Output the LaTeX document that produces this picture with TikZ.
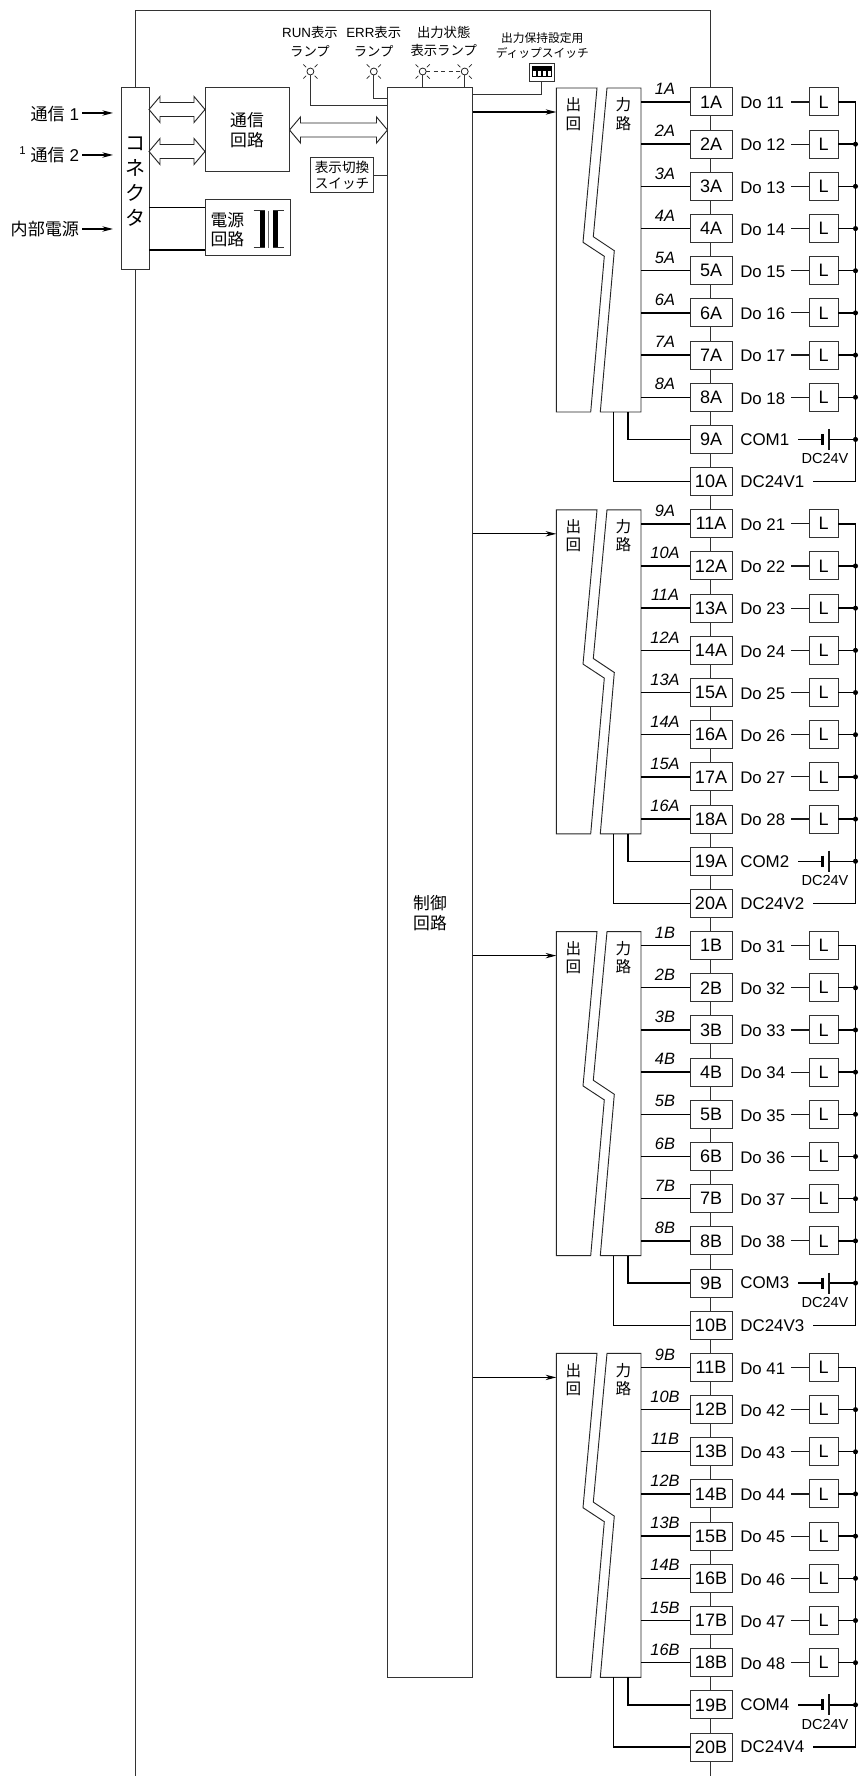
\documentclass[tikz,border=0pt]{standalone}
\usepackage{fontspec}
\setmainfont{Liberation Sans}
\newfontfamily\jp{Noto Sans CJK JP}
\usetikzlibrary{arrows.meta,calc}
\newcommand{\fsz}[2]{\fontsize{#1pt}{#2pt}\selectfont}
\tikzset{
  thin line/.style={draw=black!90,line width=0.9pt},
  frame/.style={draw=black!80,line width=0.75pt},
  wire/.style={draw=black,line width=1.05pt},
  bx/.style={draw=black!80,fill=white,line width=0.75pt,inner sep=0pt,outer sep=0pt},
  lbl/.style={inner sep=0pt,outer sep=0pt,align=center},
  dot/.style={circle,fill=black,inner sep=0pt,minimum size=3.8pt},
  harrow/.style={-{Stealth[length=8pt,width=4pt,inset=2.5pt]},draw=black,line width=0.9pt},
  lamp/.style={circle,draw=black!85,fill=white,line width=0.6pt,inner sep=0pt,minimum size=5.2pt,outer sep=0pt},
  hollow/.style={draw=black!85,fill=white,line width=0.7pt,line join=miter},
}
\newcommand{\dblarrow}[6]{% name, x1,x2,y, shaft half, head half
  \coordinate (#1-l) at (#2,#4);
  \coordinate (#1-r) at (#3,#4);
  \draw[hollow] (#1-l) -- ++(11,-#6) -- ++(0,{#6-#5}) -- ($(#1-r)+(-11,-#5)$) -- ++(0,{#5-#6}) -- (#1-r)
     -- ++(-11,#6) -- ++(0,{#5-#6}) -- ($(#1-l)+(11,#5)$) -- ++(0,{#6-#5}) -- cycle;
}
\newcommand{\lampsym}[3]{% name,x,y
  \node[lamp] (#1) at (#2,#3) {};
  \foreach \a in {45,135,225,315}{
    \draw[black!85,line width=0.5pt] ($(#1.center)+(\a:6.0)$) -- ($(#1.center)+(\a:10)$);
  }
}
\begin{document}
\begin{tikzpicture}[x=0.75pt,y=-0.75pt]
\useasboundingbox (0,0) rectangle (858,1776);
\fill[white] (0,0) rectangle (858,1776);
% outer frame
\coordinate (fl) at (135,1776);
\coordinate (fr) at (710,1776);
\draw[frame] (fl) -- (135,11) -- (710,11) -- (fr);
% connector and blocks
\node[bx,minimum width=21pt,minimum height=136.5pt] (conn) at (135,179) {};
\node[lbl,font={\jp\fsz{15}{18.75}}] (connt) at (135,181.5) {コ\\ネ\\ク\\タ};
\node[bx,minimum width=63pt,minimum height=63pt,align=center,font={\jp\fsz{12.6}{15}}] (comm) at (247,130) {通信\\回路};
\node[bx,minimum width=63.75pt,minimum height=42pt] (psu) at (247.5,228) {};
\node[lbl,font={\jp\fsz{12.6}{14.25}}] (psut) at (227.3,229.5) {電源\\回路};
\node[bx,minimum width=64.1pt,minimum height=1191.75pt] (ctl) at (430,882.5) {};
\node[lbl,font={\jp\fsz{12.6}{15}}] (ctlt) at (430,913) {制御\\回路};
\node[bx,minimum width=47.8pt,minimum height=26.25pt,align=center,font={\jp\fsz{10.2}{12}}] (sw) at (342,175.2) {表示切換\\スイッチ};
\draw[frame] (sw.east) -- (sw.east -| ctl.west);
% transformer
\fill[black] (260,211) rectangle (265,248);
\fill[black] (273,211) rectangle (278,248);
\draw[frame] (253.5,211) -- (265,211) (253.5,248) -- (265,248);
\draw[frame] (273,211) -- (284,211) (273,248) -- (284,248);
\draw[draw=black!60,line width=0.75pt] (268.7,211) -- (268.7,248);
% connector <-> psu wires
\draw[wire] (conn.east |- 0,207.5) -- (psu.west |- 0,207.5);
\draw[wire] (conn.east |- 0,250) -- (psu.west |- 0,250);
% hollow arrows
\dblarrow{da1}{149}{205}{109.5}{7}{13}
\dblarrow{da2}{149}{205}{151.5}{7}{13}
\dblarrow{da3}{289.5}{387.5}{130}{7}{13}
% left inputs
\node[lbl,anchor=east,font={\fsz{12.8}{14}}] (in1) at (79,114) {{\jp 通信}\ 1};
\node[lbl,anchor=east,font={\fsz{12.8}{14}}] (in2) at (79,155.5) {{\jp 通信}\ 2};
\node[lbl,anchor=east,font={\jp\fsz{12.8}{14}}] (in3) at (79,229) {内部電源};
\node[lbl,font={\fsz{8.5}{10}}] (sup) at (22.5,151) {1};
\coordinate (e1) at (113,113);\coordinate (e2) at (113,155);\coordinate (e3) at (113,229);
\coordinate (s1) at (82,113);\coordinate (s2) at (82,155);\coordinate (s3) at (82,229);
\draw[harrow] (s1) -- (e1);
\draw[harrow] (s2) -- (e2);
\draw[harrow] (s3) -- (e3);
% top lamps
\lampsym{lrun}{310.4}{71.5}
\lampsym{lerr}{373.8}{71.5}
\lampsym{lo1}{422.7}{71.5}
\lampsym{lo2}{464.7}{71.5}
\draw[frame] (lrun.south) |- (ctl.west |- 0,105.7);
\draw[frame] (lerr.south) |- (ctl.west |- 0,98.5);
\draw[frame] (lo1.south) -- (lo1.south |- ctl.north);
\draw[frame] (lo2.south) -- (lo2.south |- ctl.north);
\draw[frame,dash pattern=on 3.2pt off 2.4pt] (lo1.east) -- (lo2.west);
\node[lbl,font={\fsz{10}{14}}] (trun) at (310,41.5) {RUN{\jp 表示}\\{\jp ランプ}};
\node[lbl,font={\fsz{10}{14}}] (terr) at (373.7,41.5) {ERR{\jp 表示}\\{\jp ランプ}};
\node[lbl,font={\jp\fsz{10}{14}}] (tout) at (443.7,41.5) {出力状態\\表示ランプ};
\node[lbl,font={\jp\fsz{8.8}{11}}] (tdip) at (542.3,45.5) {出力保持設定用\\ディップスイッチ};
% dip switch
\node[bx,minimum width=19.1pt,minimum height=13.5pt] (dip) at (541.8,72.2) {};
\fill[black] (532,66) rectangle (551.7,77.5);
\foreach \xx in {533.2,538,542.8,547.6}{\fill[white] (\xx,71) rectangle ++(2.9,5.3);}
\draw[frame] (dip.south) |- (ctl.east |- 0,95);
% groups
\foreach \g/\suf/\tb/\wb/\cn in {0/A/0/0/1,1/A/10/8/2,2/B/0/0/3,3/B/10/8/4}{
  \pgfmathsetmacro{\off}{\g*421.8}
  \begin{scope}[yshift={-\off*0.75pt}]
    \coordinate (ta\g) at (472.5,112);
    \coordinate (o\g) at (556.3,112);
    \draw[hollow] (556.3,88) -- (597,88) -- (583,242.3) -- (604.3,256.3) -- (590.7,412) -- (556.3,412) -- cycle;
    \draw[hollow] (607,88) -- (641,88) -- (641,412) -- (600.3,412) -- (614.3,250.7) -- (593.3,236.7) -- cycle;
    \node[lbl,font={\jp\fsz{11.7}{13.9}}] (tout\g) at (573.3,114) {出\\回};
    \node[lbl,font={\jp\fsz{11.7}{13.9}}] (tpow\g) at (623.5,114) {力\\路};
    \draw[harrow] (ta\g) -- (o\g);
    \foreach \k in {1,...,10}{
      \pgfmathsetmacro{\yc}{102+(\k-1)*42.18}
      \pgfmathtruncatemacro{\tn}{\tb+\k}
      \pgfmathtruncatemacro{\wn}{\wb+\k}
      \node[bx,minimum width=31.5pt,minimum height=21pt,font={\fsz{13.5}{15}}] (t\g-\k) at (711,\yc) {\tn\suf};
      \ifnum\k<9
        \coordinate (w\g-\k) at (641,\yc);
        \draw[wire] (w\g-\k) -- (t\g-\k.west);
        \node[lbl,font={\fsz{12.3}{13}\itshape}] (wl\g-\k) at (665,{\yc-13}) {\wn\suf};
        \node[lbl,anchor=west,font={\fsz{12.6}{14}}] (do\g-\k) at (740.3,{\yc+1}) {Do \cn\k};
        \node[bx,minimum width=21.75pt,minimum height=21pt,font={\fsz{13.5}{15}}] (L\g-\k) at (823.5,\yc) {L};
        \coordinate (ds\g-\k) at (791,\yc);
        \draw[thin line] (ds\g-\k) -- (L\g-\k.west);
        \ifnum\k>1
          \coordinate (bus\g-\k) at (855.5,\yc);
          \draw[wire] (L\g-\k.east) -- (bus\g-\k);
          \node[dot] at (bus\g-\k) {};
        \fi
      \fi
    }
    % COM
    \coordinate (c9\g) at (628,412);
    \coordinate (c10\g) at (613.6,412);
    \draw[wire] (c9\g) |- (t\g-9.west);
    \draw[wire] (c10\g) |- (t\g-10.west);
    \node[lbl,anchor=west,font={\fsz{12.7}{14}}] (com\g) at (740.3,{102+8*42.18}) {COM\cn};
    \node[lbl,anchor=west,font={\fsz{12.7}{14}}] (dc\g) at (740.3,{102+9*42.18}) {DC24V\cn};
    \node[lbl,font={\fsz{10.9}{12}}] (dcv\g) at (825,{102+8*42.18+19.5}) {DC24V};
    \coordinate (b9\g) at (855.5,{102+8*42.18});
    \coordinate (b10\g) at (855.5,{102+9*42.18});
    \coordinate (b1\g) at (855.5,102);
    \coordinate (cs\g) at (798,{102+8*42.18});
    \coordinate (cp\g) at (822.5,{102+8*42.18});
    \coordinate (cq\g) at (829,{102+8*42.18});
    \coordinate (de\g) at (813,{102+9*42.18});
    \draw[wire] (cs\g) -- (cp\g);
    \draw[wire] (cq\g) -- (b9\g);
    \draw[black,line width=1.6pt] ($(cp\g)+(0,-5.5)$) -- ($(cp\g)+(0,5.5)$);
    \draw[thin line] ($(cq\g)+(0,-10.5)$) -- ($(cq\g)+(0,10.5)$);
    \node[dot] at (b9\g) {};
    \draw[draw=black,line width=1.1pt] (L\g-1.east) -- (b1\g) -- (b10\g) -- (de\g);
  \end{scope}
}
\end{tikzpicture}
\end{document}
